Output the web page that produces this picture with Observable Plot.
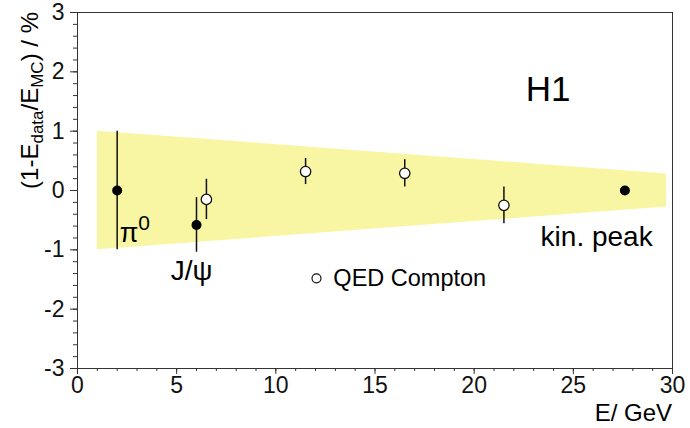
<!DOCTYPE html>
<html><head><meta charset="utf-8">
<script src="https://cdn.jsdelivr.net/npm/d3@7"></script>
<script src="https://cdn.jsdelivr.net/npm/@observablehq/plot@0.6"></script>
<style>body{margin:0;background:#fff;font-family:"Liberation Sans",Arial,sans-serif}</style>
</head><body><div id="chart"></div>
<script>
// Systematic band (relative energy scale uncertainty, %)
const bandE = [1, 29.7];
const bandHi = [1, 0.28];
const bandLo = [-1, -0.28];
// Filled points: pi0, J/psi, kinematic peak
const solidE = [2, 6, 27.6];
const solidV = [0, -0.58, 0];
const solidErr = [1.0, 0.46, 0.04];
// Open points: QED Compton
const qedE = [6.5, 11.5, 16.5, 21.5];
const qedV = [-0.15, 0.32, 0.29, -0.25];
const qedErr = [0.34, 0.22, 0.23, 0.31];
// Axis ticks
const xTicks = [0, 5, 10, 15, 20, 25, 30];
const xMinor = d3.range(0, 31, 1);
const yTicks = [-3, -2, -1, 0, 1, 2, 3];
const yMinor = d3.range(-30, 31, 2).map(d => d / 10);
// Annotations (data coordinates)
const notes = [
  {x: 4.7, y: -1.35, text: "J/ψ", size: 28},
  {x: 23.35, y: -0.78, text: "kin. peak", size: 28},
  {x: 22.6, y: 1.7, text: "H1", size: 35},
  {x: 12.9, y: -1.48, text: "QED Compton", size: 23.5}
];
const legendPt = [{x: 12.05, y: -1.48}];

const band = bandE.map((e, i) => ({e, lo: bandLo[i], hi: bandHi[i]}));
const solid = solidE.map((e, i) => ({e, v: solidV[i], err: solidErr[i]}));
const qed = qedE.map((e, i) => ({e, v: qedV[i], err: qedErr[i]}));
const font = "Liberation Sans, Arial, sans-serif";

const plot = Plot.plot({
  width: 690, height: 428,
  marginLeft: 77, marginRight: 18, marginTop: 12, marginBottom: 60,
  style: {fontFamily: font, background: "#fff", color: "#111"},
  x: {domain: [0, 30]},
  y: {domain: [-3, 3]},
  marks: [
    Plot.areaY(band, {x: "e", y1: "lo", y2: "hi", fill: "#f8f6a2", curve: "linear"}),
    // minor ticks
    Plot.axisY(yMinor, {tickSize: 4, tickFormat: () => "", label: null, stroke: "#333"}),
    Plot.axisX(xMinor, {tickSize: 3, tickFormat: () => "", label: null, stroke: "#333"}),
    // major ticks + labels
    Plot.axisY(yTicks, {tickSize: 7, tickPadding: 6, fontSize: 23, label: null, stroke: "#333", tickFormat: d => String(d)}),
    Plot.axisX(xTicks, {tickSize: 6, tickPadding: 2, fontSize: 23, label: null, stroke: "#333", tickFormat: d => String(d)}),
    Plot.frame({stroke: "#333", strokeWidth: 1}),
    // error bars
    Plot.ruleX(solid, {x: "e", y1: d => d.v - d.err, y2: d => d.v + d.err, stroke: "#111", strokeWidth: 1.5}),
    Plot.ruleX(qed, {x: "e", y1: d => d.v - d.err, y2: d => d.v + d.err, stroke: "#111", strokeWidth: 1.5}),
    Plot.dot(solid, {x: "e", y: "v", r: 5, fill: "#000"}),
    Plot.dot(qed, {x: "e", y: "v", r: 5.2, fill: "#fff", stroke: "#111", strokeWidth: 1.3}),
    Plot.dot(legendPt, {x: "x", y: "y", r: 4.5, fill: "#fff", stroke: "#111", strokeWidth: 1.2}),
    Plot.text(notes, {x: "x", y: "y", text: "text", fontSize: d => d.size, textAnchor: "start", fill: "#000"})
  ]
});

const svg = d3.select(plot);
const xs = plot.scale("x"), ys = plot.scale("y");
// pi0 label with superscript
const pi = svg.append("text")
  .attr("x", xs.apply(2.15)).attr("y", ys.apply(-0.88))
  .attr("text-anchor", "start")
  .attr("font-family", font).attr("font-size", 27).attr("fill", "#000");
pi.append("tspan").text("π");
pi.append("tspan").attr("dy", -12).attr("font-size", 21).text("0");
// x axis title
svg.append("text").attr("x", xs.apply(30)).attr("y", 421)
  .attr("text-anchor", "end").attr("font-family", font).attr("font-size", 24).attr("fill", "#000")
  .text("E/ GeV");
// y axis title with subscripts
const yt = svg.append("text")
  .attr("transform", `translate(38,${ys.apply(3)}) rotate(-90)`)
  .attr("text-anchor", "end").attr("font-family", font).attr("font-size", 24).attr("fill", "#000");
yt.append("tspan").text("(1-E");
yt.append("tspan").attr("font-size", 17).attr("dy", 5).text("data");
yt.append("tspan").attr("dy", -5).text("/E");
yt.append("tspan").attr("font-size", 17).attr("dy", 5).text("MC");
yt.append("tspan").attr("dy", -5).text(") / %");

document.getElementById("chart").appendChild(plot);
</script></body></html>
